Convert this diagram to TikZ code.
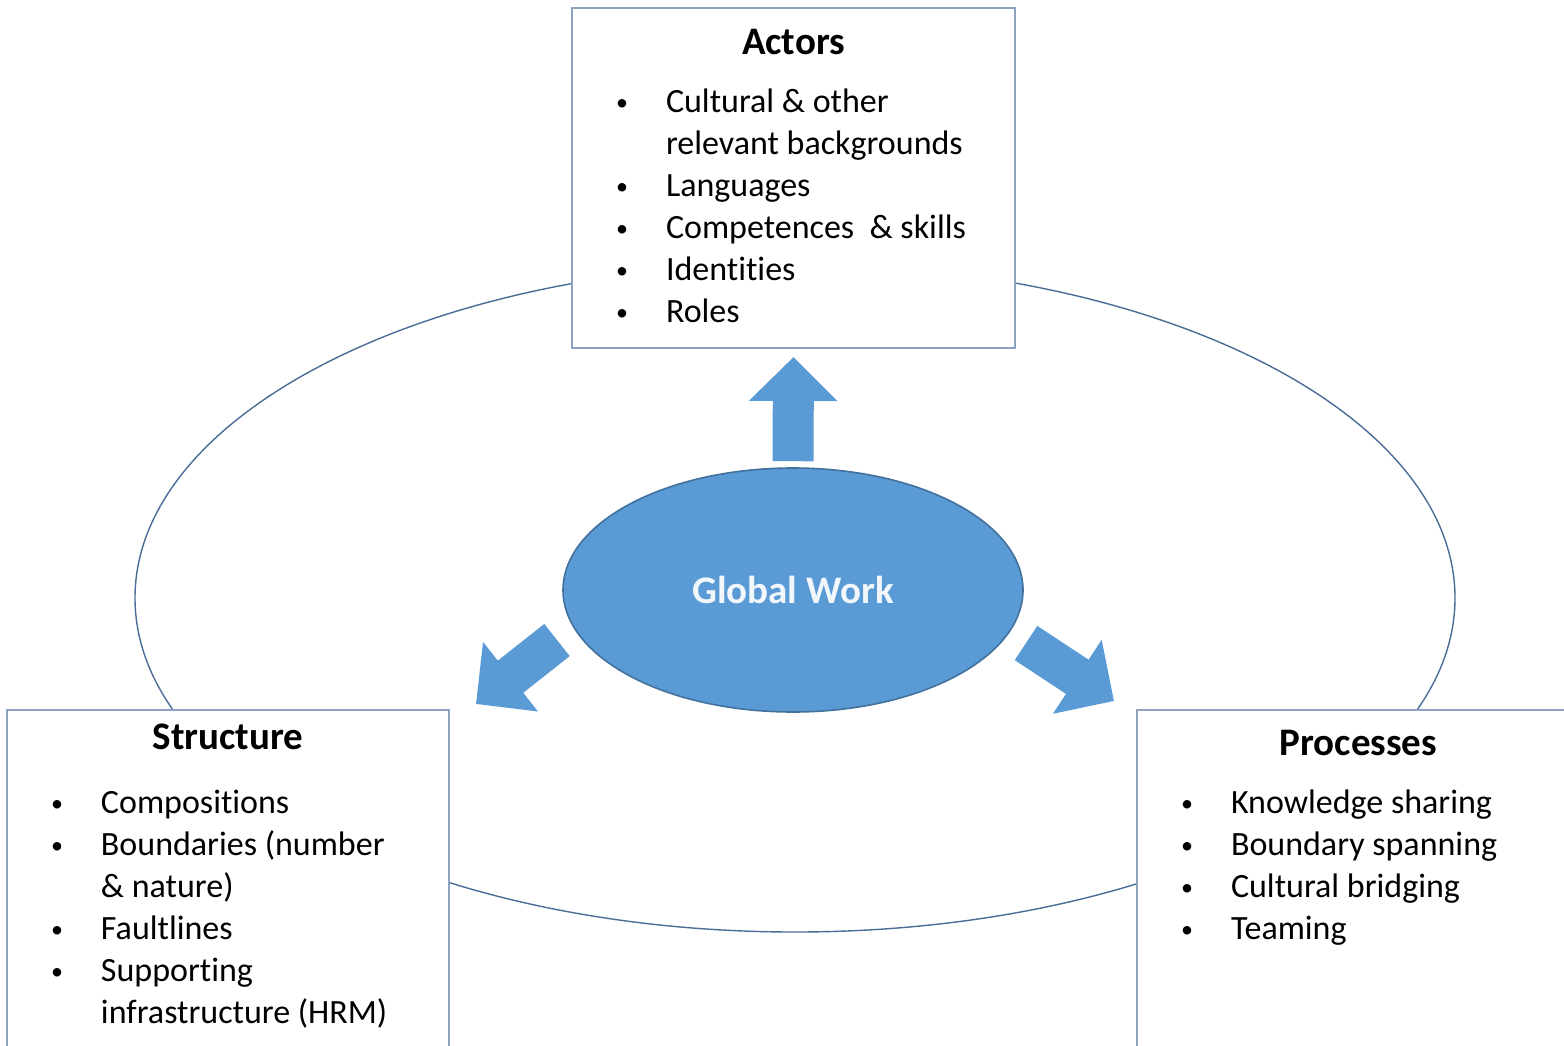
\documentclass[tikz,border=0pt]{standalone}
\usepackage{fontspec}
\setmainfont{Carlito}[Ligatures=NoCommon]
\usetikzlibrary{arrows.meta,positioning,calc,shapes.geometric}

\definecolor{workblue}{HTML}{5B9BD5}
\definecolor{workedge}{HTML}{41719C}
\definecolor{boxedge}{HTML}{8FA3C0}
\definecolor{frameline}{HTML}{4A6C96}

\newcommand{\boxtitle}[1]{{\fontsize{19.5}{24}\selectfont\bfseries #1}\par}
\newcommand{\itm}[1]{\hspace*{22pt}\makebox[25pt][l]{\raisebox{1pt}{\fontsize{12}{12}\selectfont\textbullet}}#1\par}
\newcommand{\cont}[1]{\hspace*{47pt}#1\par}
\newcommand{\boxbody}[4]{%
    \parbox[c][#2][t]{#1}{\parskip=0pt\vspace*{#3}\centering #4}}

\begin{document}
\begin{tikzpicture}[
        x=0.5pt, y=-0.5pt,
        component/.style={
            draw=boxedge,
            line width=1pt,
            fill=white,
            inner sep=0pt
        },
        core/.style={
            ellipse,
            draw=workedge,
            line width=0.8pt,
            fill=workblue,
            minimum width=230pt,
            minimum height=122pt,
            text=white!92!workblue,
            font=\fontsize{19.5}{24}\selectfont\bfseries
        },
        frame/.style={
            ellipse,
            draw=frameline,
            line width=0.7pt,
            minimum width=660pt,
            minimum height=334pt
        },
        fatarrow/.style={
            workblue,
            line width=20.5pt,
            -{Triangle[length=22pt,width=43pt]}
        }
    ]
        \useasboundingbox (0,0) rectangle (1564,1045);
        \clip (0,0) rectangle (1564,1045);

        \node[frame] (frame) at (795,598) {};
        \node[core] (gw) at (793,590) {Global Work};

        \node[component] (actors) at (793.5,178) {\boxbody{221.5pt}{170pt}{10.5pt}{%
            \boxtitle{Actors}\vspace{8pt}
            \raggedright\fontsize{17}{21}\selectfont
            \itm{Cultural \& other}
            \cont{relevant backgrounds}
            \itm{Languages}
            \itm{Competences \ \& skills}
            \itm{Identities}
            \itm{Roles}}};

        \node[component] (structure) at (228,885) {\boxbody{221pt}{175pt}{7pt}{%
            \boxtitle{Structure}\vspace{11pt}
            \raggedright\fontsize{17}{21}\selectfont
            \itm{Compositions}
            \itm{Boundaries (number}
            \cont{\& nature)}
            \itm{Faultlines}
            \itm{Supporting}
            \cont{infrastructure (HRM)}}};

        \node[component] (processes) at (1358.5,885) {\boxbody{221.5pt}{175pt}{10pt}{%
            \boxtitle{Processes}\vspace{8pt}
            \raggedright\fontsize{17}{21}\selectfont
            \itm{Knowledge sharing}
            \itm{Boundary spanning}
            \itm{Cultural bridging}
            \itm{Teaming}}};

        % block arrows out of the core
        \draw[fatarrow, shorten <=3pt, shorten >=4pt] (gw.north) -- (actors.south);
        \draw[fatarrow] ([shift={(-236,50)}]gw.center) -- ([shift={(26,-5)}]structure.north east);
        \draw[fatarrow] ([shift={(233,53)}]gw.center) -- ([shift={(-22,-8)}]processes.north west);
    \end{tikzpicture}
\end{document}
